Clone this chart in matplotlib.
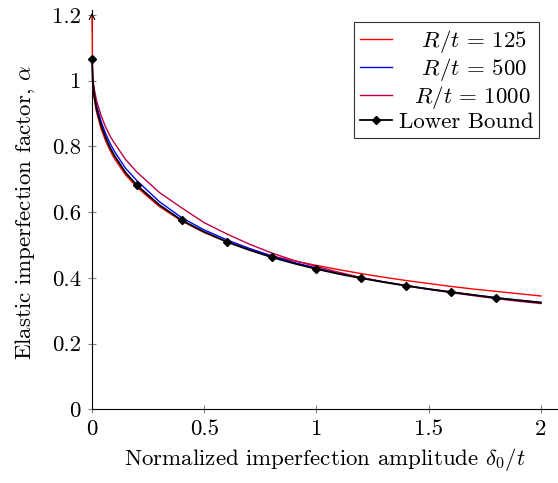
import matplotlib
matplotlib.use("Agg")
import matplotlib.pyplot as plt

plt.rcParams['font.family'] = ['cmr10', 'DejaVu Serif']
plt.rcParams['mathtext.fontset'] = 'cm'
plt.rcParams['axes.formatter.use_mathtext'] = True

# values
x = [0, 0.003, 0.01, 0.02, 0.04, 0.06, 0.08, 0.1, 0.15, 0.2, 0.3, 0.4, 0.5, 0.6,
     0.7, 0.8, 0.9, 1.0, 1.1, 1.2, 1.3, 1.4, 1.5, 1.6, 1.7, 1.8, 1.9, 2.0]
rt125 = [1.2, 0.99, 0.945, 0.905, 0.855, 0.818, 0.788, 0.763, 0.713, 0.676, 0.617,
         0.573, 0.538, 0.51, 0.487, 0.467, 0.452, 0.438, 0.425, 0.413, 0.402, 0.392,
         0.383, 0.374, 0.366, 0.359, 0.352, 0.345]
rt500 = [1.07, 1.0, 0.96, 0.925, 0.877, 0.84, 0.81, 0.785, 0.733, 0.696, 0.632,
         0.583, 0.546, 0.516, 0.49, 0.467, 0.447, 0.43, 0.414, 0.4, 0.388, 0.377,
         0.366, 0.357, 0.348, 0.34, 0.332, 0.325]
rt1000 = [1.07, 1.01, 0.975, 0.94, 0.895, 0.86, 0.832, 0.81, 0.76, 0.722, 0.66,
          0.613, 0.568, 0.534, 0.503, 0.476, 0.453, 0.435, 0.417, 0.401, 0.388, 0.376,
          0.365, 0.355, 0.346, 0.337, 0.329, 0.322]
lower = [1.065, 1.0, 0.955, 0.915, 0.865, 0.828, 0.797, 0.772, 0.72, 0.682, 0.622,
         0.575, 0.54, 0.51, 0.485, 0.463, 0.444, 0.427, 0.412, 0.399, 0.387, 0.376,
         0.366, 0.357, 0.348, 0.339, 0.332, 0.325]
mark_x = [0, 0.2, 0.4, 0.6, 0.8, 1.0, 1.2, 1.4, 1.6, 1.8]

xticks = [0, 0.5, 1, 1.5, 2]
xticklabels = ['0', '0.5', '1', '1.5', '2']
yticks = [0, 0.2, 0.4, 0.6, 0.8, 1, 1.2]
yticklabels = ['0', '0.2', '0.4', '0.6', '0.8', '1', '1.2']

fs = 16.5

fig = plt.figure(figsize=(5.58, 4.83), dpi=100)
ax = fig.add_axes([0.1649, 0.1525, 0.8347, 0.8164])

ax.plot(x, rt125, color='#ff0000', lw=1.0, zorder=3, clip_on=False,
        label=r'   $R/t\,=\,125$')
ax.plot(x, rt500, color='#0000ff', lw=1.0, zorder=3, label=r'   $R/t\,=\,500$')
ax.plot(x, rt1000, color='#bf0040', lw=1.0, zorder=3, label=r'  $R/t\,=\,1000$')
marks = [x.index(v) for v in mark_x]
ax.plot(x, lower, color='black', lw=1.3, marker='D', markersize=4.5,
        markevery=marks, zorder=3, clip_on=False, label='Lower Bound')

ax.set_xlim(0, 2.075)
ax.set_ylim(0, 1.2)
ax.spines['top'].set_visible(False)
ax.spines['right'].set_visible(False)
ax.spines['left'].set_linewidth(0.8)
ax.spines['bottom'].set_linewidth(0.8)
ax.spines['left'].set_bounds(0, 1.215)

# arrow head on top of the y axis
ax.annotate('', xy=(0, 1.215), xytext=(0, 1.19),
            arrowprops=dict(arrowstyle='->', color='black', lw=0.8),
            annotation_clip=False)

ax.set_xticks(xticks)
ax.set_xticklabels(xticklabels)
ax.set_yticks(yticks)
ax.set_yticklabels(yticklabels)
ax.tick_params(direction='inout', length=6, width=0.8, color='#808080',
               labelsize=fs)
ax.tick_params(axis='x', pad=4)
ax.tick_params(axis='y', pad=5)

ax.set_xlabel(r'Normalized imperfection amplitude $\delta_0/t$', fontsize=fs,
              labelpad=5)
ax.set_ylabel(r'Elastic imperfection factor, $\alpha$', fontsize=fs, labelpad=11)

leg = ax.legend(loc='upper right', bbox_to_anchor=(0.96, 0.982), fontsize=fs,
                frameon=True, fancybox=False, edgecolor='black',
                handlelength=1.4, handletextpad=0.3, labelspacing=0.05,
                borderpad=0.25, borderaxespad=0)
leg.get_frame().set_linewidth(0.8)

fig.savefig('out.png', dpi=100)
